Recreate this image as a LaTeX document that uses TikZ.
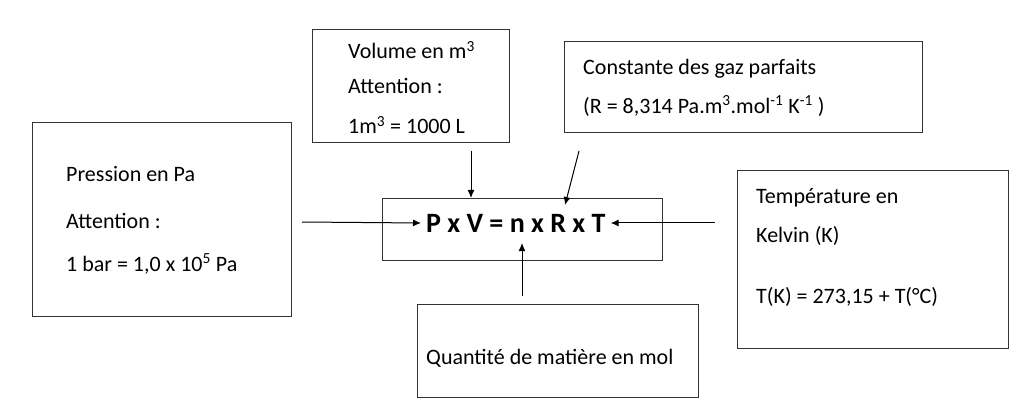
\documentclass[tikz,border=0pt]{standalone}
\usepackage{fontspec}
\setmainfont{Carlito}
\usetikzlibrary{arrows.meta}
\tikzset{
  box/.style={draw, line width=1.1pt, black!80, anchor=north west, inner sep=0pt},
  txt/.style={anchor=west, inner sep=0pt, font=\fontsize{22}{24}\selectfont},
  arr/.style={line width=1pt, -{Latex[length=8pt,width=7pt]}}
}
\begin{document}
\begin{tikzpicture}[x=1pt,y=-1pt]
\useasboundingbox (0,0) rectangle (1036,414);

% boxes
\node[box, minimum width=259, minimum height=194] (pres) at (32,122) {};
\node[box, minimum width=197, minimum height=113] (vol) at (312,29) {};
\node[box, minimum width=358, minimum height=91] (cst) at (564,41) {};
\node[box, minimum width=280, minimum height=62] (eq) at (382,198) {};
\node[box, minimum width=271, minimum height=178] (temp) at (737,170) {};
\node[box, minimum width=281, minimum height=93] (qte) at (417,304) {};

% texts
\node[txt] (p1) at (66,174) {Pression en Pa};
\node[txt] (p2) at (66,221) {Attention :};
\node[txt] (p3) at (66,264) {1 bar = 1,0 x 10\textsuperscript{5} Pa};
\node[txt] (v1) at (348,50) {Volume en m\textsuperscript{3}};
\node[txt] (v2) at (348,86) {Attention :};
\node[txt] (v3) at (348,125) {1m\textsuperscript{3} = 1000 L};
\node[txt] (c1) at (583,69) {Constante des gaz parfaits};
\node[txt] (c2) at (583,106) {(R = 8,314 Pa.m\textsuperscript{3}.mol\textsuperscript{-1} K\textsuperscript{-1} )};
\node[txt] (t1) at (756,198) {Température en};
\node[txt] (t2) at (756,236) {Kelvin (K)};
\node[txt] (t3) at (756,297) {T(K) = 273,15 + T(°C)};
\node[txt] (q1) at (426,358) {Quantité de matière en mol};
\node[txt, inner xsep=5pt, font=\fontsize{28}{30}\selectfont\bfseries] (law) at (421,223) {P x V = n x R x T};

% arrows
\coordinate (a1) at (302,222);
\coordinate (a2) at (471,151);
\coordinate (a3) at (579,151);
\coordinate (a3e) at (565,205);
\coordinate (a4) at (715,223);
\coordinate (a5) at (522,296);
\draw[arr] (a1) -- (law.west);
\draw[arr] (a2) -- (a2 |- eq.north);
\draw[arr] (a3) -- (a3e);
\draw[arr] (a4) -- (law.east);
\draw[arr] (a5) -- (522,243);
\end{tikzpicture}
\end{document}
